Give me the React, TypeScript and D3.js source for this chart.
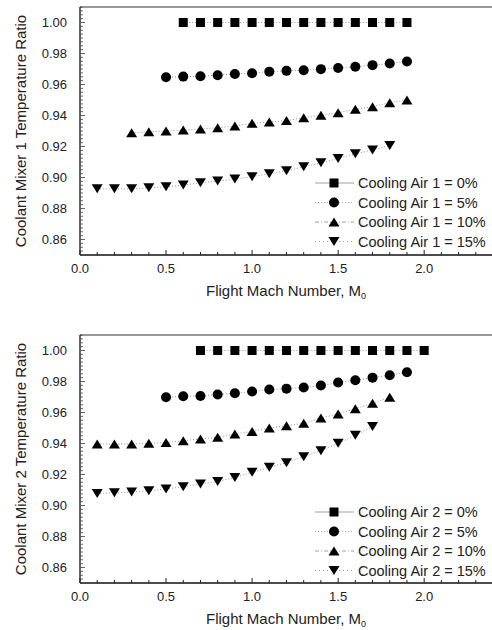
import React from "react";
import * as d3 from "d3";

// Flight Mach number positions
const mach06to19 = [0.6, 0.7, 0.8, 0.9, 1.0, 1.1, 1.2, 1.3, 1.4, 1.5, 1.6, 1.7, 1.8, 1.9];
const mach05to19 = [0.5, 0.6, 0.7, 0.8, 0.9, 1.0, 1.1, 1.2, 1.3, 1.4, 1.5, 1.6, 1.7, 1.8, 1.9];
const mach03to19 = [0.3, 0.4, 0.5, 0.6, 0.7, 0.8, 0.9, 1.0, 1.1, 1.2, 1.3, 1.4, 1.5, 1.6, 1.7, 1.8, 1.9];
const mach01to18 = [0.1, 0.2, 0.3, 0.4, 0.5, 0.6, 0.7, 0.8, 0.9, 1.0, 1.1, 1.2, 1.3, 1.4, 1.5, 1.6, 1.7, 1.8];
const mach07to20 = [0.7, 0.8, 0.9, 1.0, 1.1, 1.2, 1.3, 1.4, 1.5, 1.6, 1.7, 1.8, 1.9, 2.0];
const mach01to17 = [0.1, 0.2, 0.3, 0.4, 0.5, 0.6, 0.7, 0.8, 0.9, 1.0, 1.1, 1.2, 1.3, 1.4, 1.5, 1.6, 1.7];

// Coolant mixer 1 temperature ratio
const mixer1Ratio0 = [1.0, 1.0, 1.0, 1.0, 1.0, 1.0, 1.0, 1.0, 1.0, 1.0, 1.0, 1.0, 1.0, 1.0];
const mixer1Ratio5 = [0.9647, 0.9651, 0.9653, 0.966, 0.9668, 0.9673, 0.9683, 0.9688, 0.9692, 0.9699, 0.9707, 0.9714, 0.9725, 0.9735, 0.9748];
const mixer1Ratio10 = [0.9289, 0.9295, 0.93, 0.9306, 0.9313, 0.9321, 0.9332, 0.935, 0.9358, 0.9367, 0.9386, 0.9401, 0.9418, 0.944, 0.9457, 0.9483, 0.95];
const mixer1Ratio15 = [0.8927, 0.8927, 0.8927, 0.8934, 0.894, 0.8951, 0.8966, 0.8977, 0.899, 0.9005, 0.9024, 0.9044, 0.9069, 0.9095, 0.9123, 0.9153, 0.9177, 0.9207];

// Coolant mixer 2 temperature ratio
const mixer2Ratio0 = [1.0, 1.0, 1.0, 1.0, 1.0, 1.0, 1.0, 1.0, 1.0, 1.0, 1.0, 1.0, 1.0, 1.0];
const mixer2Ratio5 = [0.9698, 0.9705, 0.9707, 0.9716, 0.9724, 0.9735, 0.9748, 0.9754, 0.9761, 0.9774, 0.9793, 0.9808, 0.9825, 0.984, 0.986];
const mixer2Ratio10 = [0.9397, 0.9397, 0.9397, 0.9401, 0.9407, 0.9418, 0.9429, 0.944, 0.9461, 0.9478, 0.95, 0.9515, 0.953, 0.9565, 0.9591, 0.9625, 0.9659, 0.9698];
const mixer2Ratio15 = [0.9078, 0.9082, 0.9087, 0.9095, 0.9106, 0.9121, 0.9138, 0.9155, 0.9181, 0.9214, 0.9246, 0.9276, 0.9315, 0.9354, 0.9401, 0.9453, 0.9509];

const xTicks = [0.0, 0.5, 1.0, 1.5, 2.0];
const yTicks = [0.86, 0.88, 0.9, 0.92, 0.94, 0.96, 0.98, 1.0];
const coolingLevels = ["0%", "5%", "10%", "15%"];
const markerShapes = ["square", "circle", "triangle", "down"];
const legendDash = ["none", "1,2", "4,2,1,2", "1,3"];

const FONT = "'Liberation Sans', Arial, Helvetica, sans-serif";

function marker(shape: string, x: number, y: number, key?: any) {
  if (shape === "square") return <rect key={key} x={x - 4.5} y={y - 4.5} width={9} height={9} fill="#000" />;
  if (shape === "circle") return <circle key={key} cx={x} cy={y} r={5} fill="#000" />;
  if (shape === "triangle")
    return <path key={key} d={`M${x},${y - 4.5}L${x + 5.5},${y + 4.5}L${x - 5.5},${y + 4.5}Z`} fill="#000" />;
  return <path key={key} d={`M${x},${y + 4.5}L${x + 5.5},${y - 4.5}L${x - 5.5},${y - 4.5}Z`} fill="#000" />;
}

function Panel({ top, mixer, series, legendTop }: any) {
  const bottom = top + 248;
  const x = d3.scaleLinear().domain([0, 2.4]).range([80, 493]);
  const y = d3.scaleLinear().domain([0.85, 1.01]).range([bottom, top]);
  const line = d3
    .line<[number, number]>()
    .x((d) => x(d[0]))
    .y((d) => y(d[1]));

  const xMinor = d3.range(0, 24).map((i) => i / 10);
  const yMinor = d3.range(0, 65).map((i) => 0.85 + i * 0.0025);

  return (
    <g>
      {/* frame */}
      <line x1={80} x2={493} y1={top} y2={top} stroke="#333" strokeWidth={1.2} />
      <line x1={80} x2={80} y1={top} y2={bottom} stroke="#111" strokeWidth={1.3} />
      <line x1={80} x2={493} y1={bottom} y2={bottom} stroke="#111" strokeWidth={1.5} />

      {/* minor ticks */}
      {xMinor.map((v, i) => (
        <line key={"xm" + i} x1={x(v)} x2={x(v)} y1={bottom} y2={bottom - (i % 5 === 0 ? 5 : 3)} stroke="#222" />
      ))}
      {yMinor.map((v, i) => (
        <line key={"ym" + i} x1={80} x2={80 + (i % 8 === 4 ? 5 : 3)} y1={y(v)} y2={y(v)} stroke="#444" strokeWidth={0.8} />
      ))}

      {/* tick labels */}
      {xTicks.map((v) => (
        <text key={"xt" + v} x={x(v)} y={bottom + 18} textAnchor="middle" fontSize={13} fontFamily={FONT} fill="#222">
          {d3.format(".1f")(v)}
        </text>
      ))}
      {yTicks.map((v) => (
        <text key={"yt" + v} x={67} y={y(v) + 4.5} textAnchor="end" fontSize={13} fontFamily={FONT} fill="#222">
          {d3.format(".2f")(v)}
        </text>
      ))}

      {/* axis titles */}
      <text
        transform={`translate(26,${(top + bottom) / 2}) rotate(-90)`}
        textAnchor="middle"
        fontSize={15}
        fontFamily={FONT}
        fill="#222"
      >
        {`Coolant Mixer ${mixer} Temperature Ratio`}
      </text>
      <text x={286} y={bottom + 41} textAnchor="middle" fontSize={15} fontFamily={FONT} fill="#222">
        Flight Mach Number, M
        <tspan fontSize={9} dy={2.5}>0</tspan>
      </text>

      {/* series */}
      {series.map((s: any, si: number) => {
        const pts: [number, number][] = s.mach.map((m: number, i: number) => [m, s.ratio[i]]);
        return (
          <g key={"s" + si}>
            <path d={line(pts) || ""} fill="none" stroke="#777" strokeWidth={0.8} strokeDasharray="1,2" />
            {pts.map((p, i) => marker(markerShapes[si], x(p[0]), y(p[1]), i))}
          </g>
        );
      })}

      {/* legend */}
      {coolingLevels.map((lvl, i) => {
        const ly = legendTop + i * 19.5;
        return (
          <g key={"lg" + i}>
            <line x1={315} x2={354} y1={ly} y2={ly} stroke="#888" strokeWidth={0.8} strokeDasharray={legendDash[i]} />
            {marker(markerShapes[i], 334, ly)}
            <text x={358} y={ly + 5} fontSize={14.5} fontFamily={FONT} fill="#222">
              {`Cooling Air ${mixer} = ${lvl}`}
            </text>
          </g>
        );
      })}
    </g>
  );
}

export default function App() {
  const panel1 = [
    { mach: mach06to19, ratio: mixer1Ratio0 },
    { mach: mach05to19, ratio: mixer1Ratio5 },
    { mach: mach03to19, ratio: mixer1Ratio10 },
    { mach: mach01to18, ratio: mixer1Ratio15 },
  ];
  const panel2 = [
    { mach: mach07to20, ratio: mixer2Ratio0 },
    { mach: mach05to19, ratio: mixer2Ratio5 },
    { mach: mach01to18, ratio: mixer2Ratio10 },
    { mach: mach01to17, ratio: mixer2Ratio15 },
  ];
  return (
    <svg width={492} height={630} style={{ position: "absolute", left: 0, top: 0, background: "#fff" }}>
      <rect width={492} height={630} fill="#fff" />
      <Panel top={7} mixer={1} series={panel1} legendTop={183} />
      <Panel top={335} mixer={2} series={panel2} legendTop={512} />
    </svg>
  );
}
